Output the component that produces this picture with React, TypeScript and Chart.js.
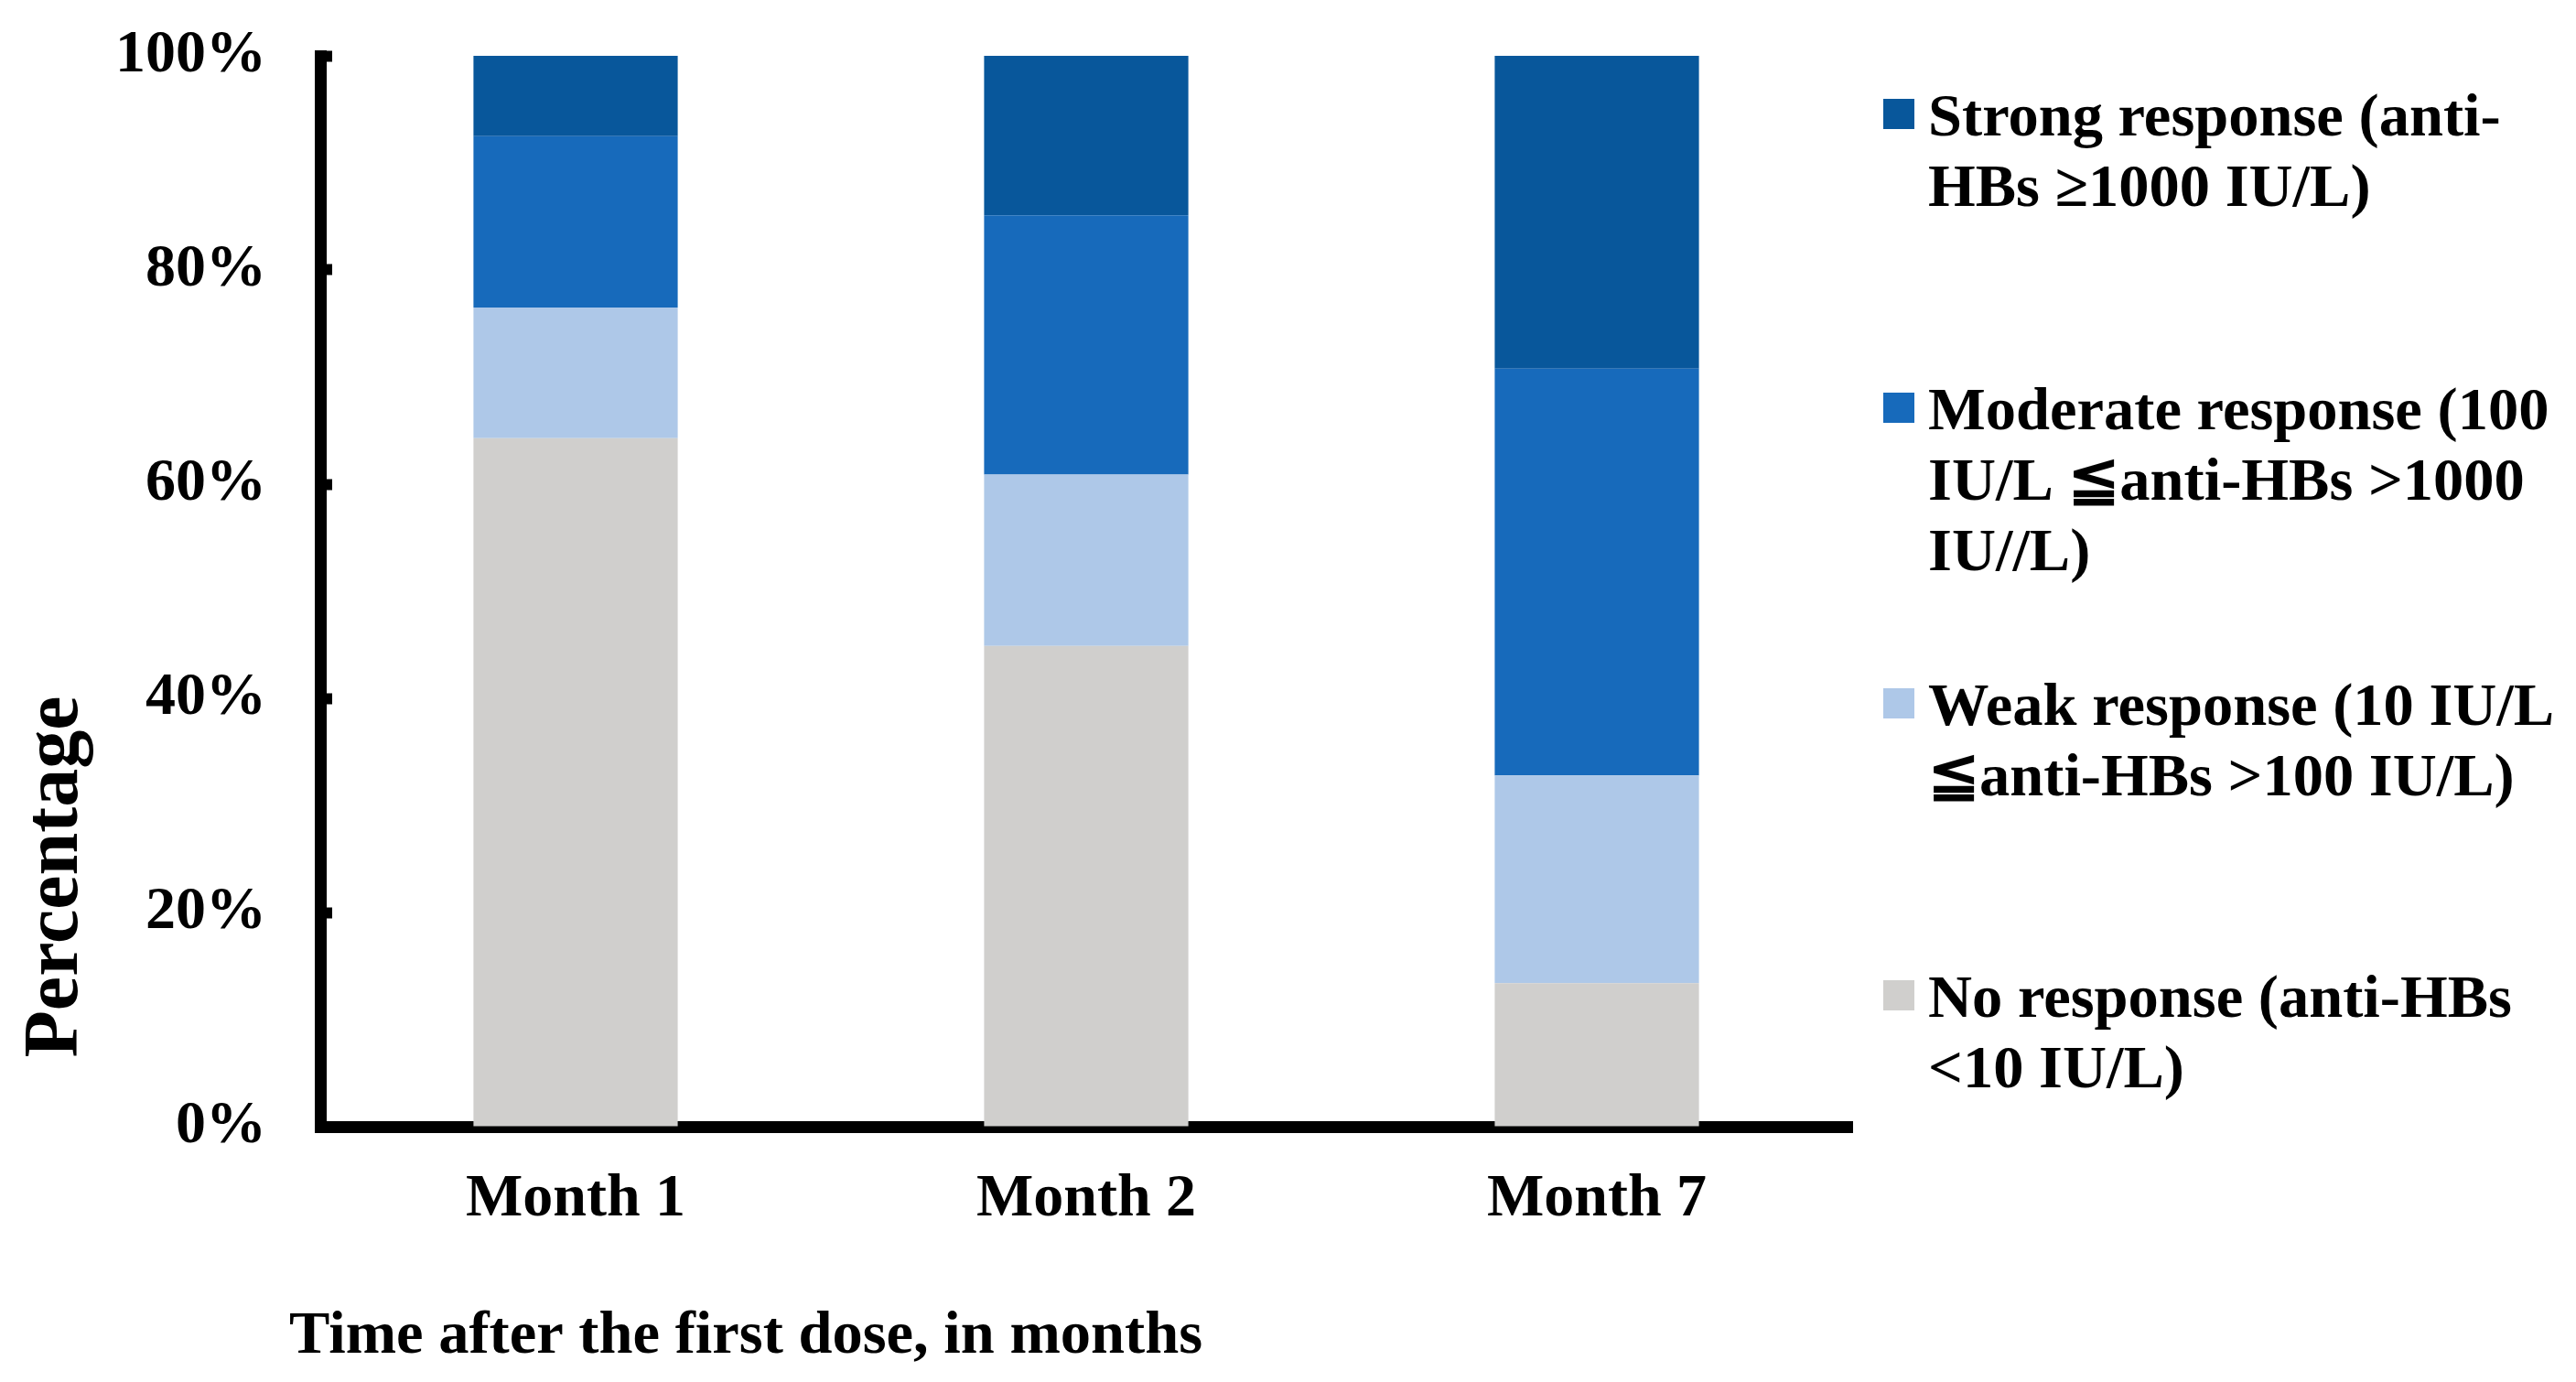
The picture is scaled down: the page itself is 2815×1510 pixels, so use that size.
import React, { useEffect, useRef } from "react";
import { Chart, registerables } from "chart.js";

Chart.register(...registerables);

const categories = ["Month 1", "Month 2", "Month 7"];
const noResponse = [64.3, 44.9, 13.4];
const weakResponse = [12.2, 16.0, 19.4];
const moderateResponse = [16.0, 24.2, 38.0];
const strongResponse = [7.5, 14.9, 29.2];
const yTicks = [0, 20, 40, 60, 80, 100];

const seriesLabels = [
  ["No response (anti-HBs", "<10 IU/L)"],
  ["Weak response (10 IU/L", "≦anti-HBs >100 IU/L)"],
  ["Moderate response (100", "IU/L ≦anti-HBs >1000", "IU//L)"],
  ["Strong response (anti-", "HBs ≥1000 IU/L)"],
];
const colors = ["#d0cfcd", "#aec8e8", "#176abb", "#08579b"];
const xTitle = "Time after the first dose, in months";
const yTitle = "Percentage";

const FONT = "'Liberation Serif', 'Times New Roman', serif";

const overlayPlugin = {
  id: "overlay",
  afterDraw(chart: any) {
    const ctx = chart.ctx;
    ctx.save();
    ctx.fillStyle = "#000";
    // x title
    ctx.font = `bold 66.5px ${FONT}`;
    ctx.textAlign = "left";
    ctx.textBaseline = "alphabetic";
    ctx.fillText(xTitle, 316, 1478);
    // y title
    ctx.save();
    ctx.translate(84, 958);
    ctx.rotate(-Math.PI / 2);
    ctx.font = `bold 84px ${FONT}`;
    ctx.textAlign = "center";
    ctx.fillText(yTitle, 0, 0);
    ctx.restore();
    // legend (reverse order)
    const baselines = [148, 469, 792, 1111];
    const ds = chart.data.datasets;
    ctx.font = `bold 66.5px ${FONT}`;
    ctx.textAlign = "left";
    for (let i = 0; i < ds.length; i++) {
      const d = ds[ds.length - 1 - i];
      const b = baselines[i];
      ctx.fillStyle = d.backgroundColor;
      ctx.fillRect(2058, b - 40, 34, 33);
      ctx.fillStyle = "#000";
      const lines = d.legendLines as string[];
      lines.forEach((ln, j) => ctx.fillText(ln, 2107, b + j * 77));
    }
    ctx.restore();
  },
};

export default function App() {
  const ref = useRef<HTMLCanvasElement | null>(null);
  useEffect(() => {
    if (!ref.current) return;
    const values = [noResponse, weakResponse, moderateResponse, strongResponse];
    const chart = new Chart(ref.current, {
      type: "bar",
      data: {
        labels: categories,
        datasets: values.map((v, i) => ({
          label: seriesLabels[i].join(" "),
          legendLines: seriesLabels[i],
          data: v,
          backgroundColor: colors[i],
          borderWidth: 0,
          barPercentage: 0.4,
          categoryPercentage: 1.0,
        })) as any,
      },
      options: {
        animation: false,
        responsive: true,
        maintainAspectRatio: false,
        devicePixelRatio: 1,
        layout: { padding: { left: 0, right: 791, top: 61, bottom: 0 } },
        plugins: { legend: { display: false }, tooltip: { enabled: false } },
        scales: {
          x: {
            stacked: true,
            grid: { display: false, drawTicks: false },
            border: { display: true, width: 13, color: "#000" },
            ticks: {
              color: "#000",
              padding: 40,
              font: { family: FONT, size: 66, weight: "bold" },
            },
            afterFit: (s: any) => {
              s.height = 279;
            },
          },
          y: {
            stacked: true,
            min: 0,
            max: 100,
            afterBuildTicks: (s: any) => {
              s.ticks = yTicks.map((v) => ({ value: v }));
            },
            grid: {
              drawOnChartArea: false,
              drawTicks: true,
              tickLength: -13,
              tickWidth: 12,
              tickColor: "#000",
              color: "#000",
            },
            border: { display: true, width: 13, color: "#000" },
            ticks: {
              color: "#000",
              padding: 72,
              font: { family: FONT, size: 66, weight: "bold" },
              callback: (v: any) => `${v}%`,
            },
            afterFit: (s: any) => {
              s.width = 350;
              s.paddingTop = 0;
              s.paddingBottom = 0;
            },
          },
        },
      },
      plugins: [overlayPlugin],
    });
    return () => chart.destroy();
  }, []);
  return (
    <div
      style={{
        position: "fixed",
        left: 0,
        top: 0,
        width: 2815,
        height: 1510,
        background: "#fff",
      }}
    >
      <canvas ref={ref} style={{ width: "100%", height: "100%" }} />
    </div>
  );
}
